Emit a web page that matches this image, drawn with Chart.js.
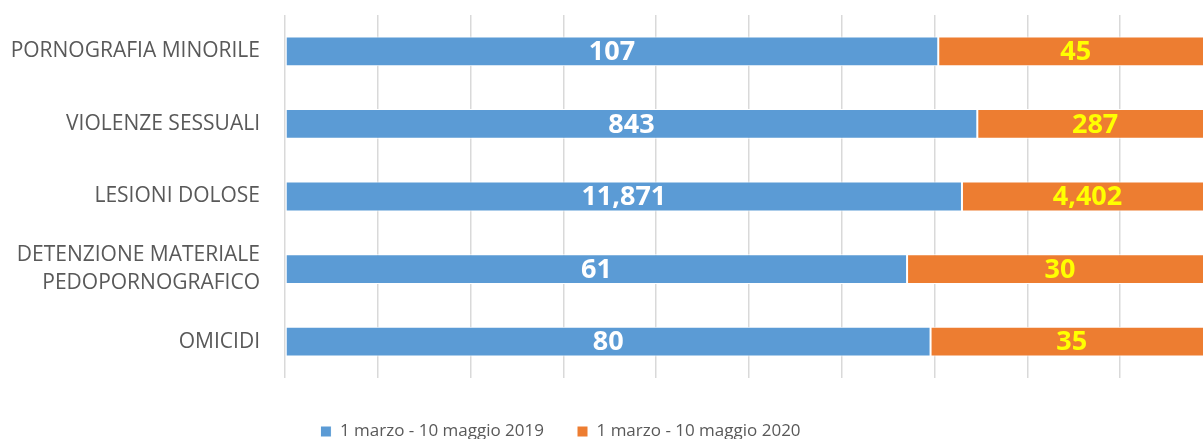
<!DOCTYPE html>
<html>
<head>
<meta charset="utf-8">
<script src="https://cdn.jsdelivr.net/npm/chart.js@4"></script>
<style>
  html, body { margin: 0; padding: 0; background: #fff; overflow: hidden; }
  #wrap { width: 1228px; height: 439px; }
</style>
</head>
<body>
<div id="wrap"><canvas id="dataChart"></canvas></div>
<script>
// Categories (top to bottom)
const categories = [
    'PORNOGRAFIA MINORILE',
    'VIOLENZE SESSUALI',
    'LESIONI DOLOSE',
    ['DETENZIONE MATERIALE', 'PEDOPORNOGRAFICO'],
    'OMICIDI'
];
// Series values (raw counts)
const values2019 = [107, 843, 11871, 61, 80];
const values2020 = [45, 287, 4402, 30, 35];
const seriesLabels = ['1 marzo - 10 maggio 2019', '1 marzo - 10 maggio 2020'];

const textColor = '#595959';

// 100% stacked: share of each row
const totals = values2019.map((v, i) => v + values2020[i]);
const pct2019 = values2019.map((v, i) => v / totals[i] * 100);
const pct2020 = values2020.map((v, i) => v / totals[i] * 100);

// Draws the count inside every bar segment
const barLabels = {
    id: 'barLabels',
    afterDatasetsDraw(chart) {
        const ctx = chart.ctx;
        const raw = [values2019, values2020];
        const colors = ['#ffffff', '#ffff00'];
        ctx.save();
        ctx.font = 'bold 27px "Open Sans"';
        ctx.textAlign = 'center';
        ctx.textBaseline = 'middle';
        chart.data.datasets.forEach((ds, d) => {
            const meta = chart.getDatasetMeta(d);
            meta.data.forEach((bar, i) => {
                ctx.fillStyle = colors[d];
                ctx.fillText(raw[d][i].toLocaleString('en-US'), (bar.base + bar.x) / 2, bar.y + 1);
            });
        });
        ctx.restore();
    }
};

// Legend sits left of centre and a little lower in the original
const moveLegend = {
    id: 'moveLegend',
    afterLayout(chart) {
        const lg = chart.legend;
        lg.left -= 46;
        lg.right -= 46;
        lg.top += 12;
        lg.bottom += 12;
    }
};

const ctx = document.getElementById('dataChart').getContext('2d');
const myChart = new Chart(ctx, {
    type: 'bar',
    data: {
        labels: categories,
        datasets: [{
            label: seriesLabels[0],
            data: pct2019,
            backgroundColor: '#5b9bd5',
            borderColor: '#ffffff',
            borderWidth: 1,
            borderSkipped: false,
            barPercentage: 0.41,
            categoryPercentage: 1
        }, {
            label: seriesLabels[1],
            data: pct2020,
            backgroundColor: '#ed7d31',
            borderColor: '#ffffff',
            borderWidth: 1,
            borderSkipped: false,
            barPercentage: 0.41,
            categoryPercentage: 1
        }]
    },
    options: {
        indexAxis: 'y',
        responsive: true,
        maintainAspectRatio: false,
        animation: false,
        layout: { padding: { top: 15, right: 15, left: 0, bottom: 0 } },
        plugins: {
            legend: {
                position: 'bottom',
                labels: {
                    color: textColor,
                    font: { family: '"Open Sans"', size: 17 },
                    boxWidth: 11,
                    boxHeight: 11,
                    padding: 33
                }
            },
            tooltip: { enabled: false }
        },
        scales: {
            x: {
                stacked: true,
                min: 0,
                max: 100,
                ticks: { display: false, stepSize: 10 },
                grid: { color: '#d9d9d9', lineWidth: 1.5, drawTicks: false },
                border: { display: false },
                afterFit: s => { s.height = 0; }
            },
            y: {
                stacked: true,
                ticks: {
                    color: textColor,
                    font: { family: '"Open Sans"', size: 21, lineHeight: 1.3 },
                    padding: 17
                },
                grid: { display: false },
                border: { display: false },
                afterFit: s => { s.width = 285; s.paddingTop = 0; s.paddingBottom = 0; }
            }
        }
    },
    plugins: [barLabels, moveLegend]
});

// keep the legend band at the original 61px under the plot
const legendFit = myChart.legend.fit;
myChart.legend.fit = function () {
    legendFit.call(this);
    this.height = 61;
};
myChart.update();
</script>
</body>
</html>
